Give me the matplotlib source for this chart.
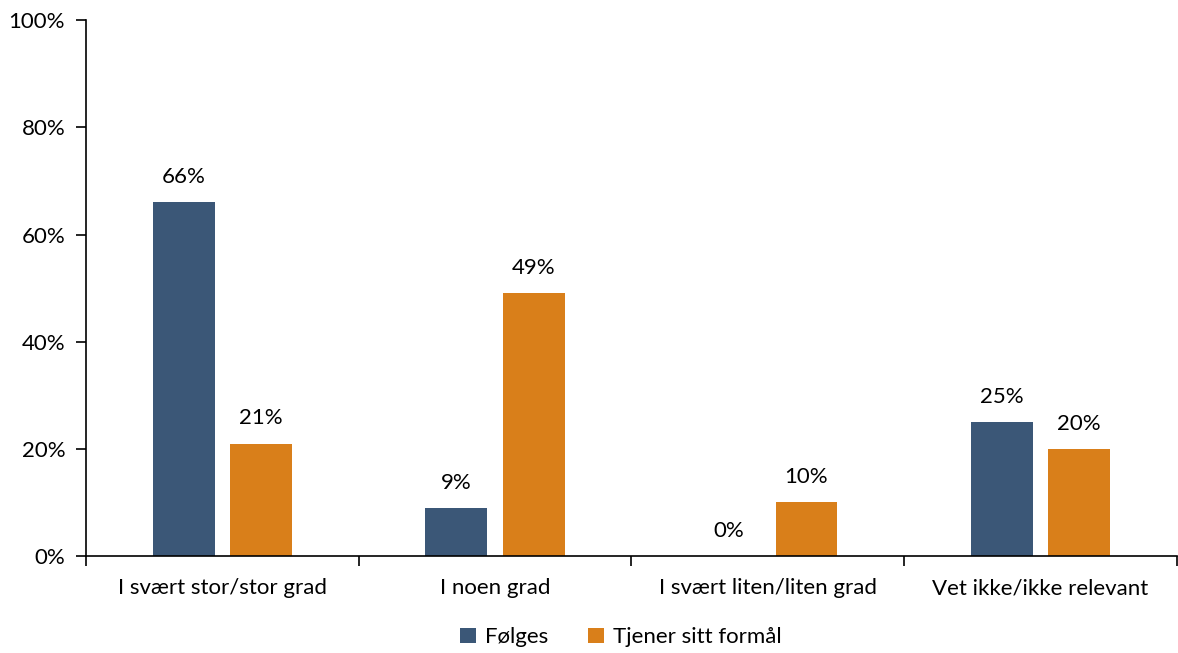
import numpy as np
import matplotlib
matplotlib.use("Agg")
import matplotlib.pyplot as plt
from matplotlib.ticker import PercentFormatter

# Data
categories = ["I svært stor/stor grad", "I noen grad", "I svært liten/liten grad", "Vet ikke/ikke relevant"]
folges = [66, 9, 0, 25]
tjener = [21, 49, 10, 20]
series_names = ["Følges", "Tjener sitt formål"]

plt.rcParams["font.family"] = ["Lato", "DejaVu Sans"]
fs = 16

fig = plt.figure(figsize=(11.78, 6.53), dpi=100)
ax = fig.add_axes([0.073, 0.1485, 0.926, 0.8205])

x = np.arange(len(categories))
w = 0.227
off = 0.142
b1 = ax.bar(x - off, folges, w, color="#3B5777", label=series_names[0])
b2 = ax.bar(x + off, tjener, w, color="#D97F1A", label=series_names[1])

for bars, vals in ((b1, folges), (b2, tjener)):
    for rect, v in zip(bars, vals):
        ax.annotate(f"{v}%", (rect.get_x() + rect.get_width() / 2, v),
                    xytext=(0, 11), textcoords="offset points",
                    ha="center", va="bottom", fontsize=fs, color="#000000")

ax.set_ylim(0, 100)
ax.set_xlim(-0.5, len(categories) - 0.5)
ax.yaxis.set_major_formatter(PercentFormatter(decimals=0))
ax.set_yticks(range(0, 101, 20))

ax.set_xticks(x)
ax.set_xticklabels(categories)
ax.set_xticks(np.arange(-0.5, len(categories)), minor=True)
ax.tick_params(axis="x", which="major", length=0, pad=16, labelsize=fs)
ax.tick_params(axis="x", which="minor", length=7, width=1.2)
ax.tick_params(axis="y", length=7, width=1.2, labelsize=fs, pad=8)

for s in ["top", "right"]:
    ax.spines[s].set_visible(False)
ax.spines["left"].set_linewidth(1.2)
ax.spines["bottom"].set_linewidth(1.2)

fig.legend(loc="lower center", bbox_to_anchor=(0.527, -0.022), ncol=2, frameon=False,
           fontsize=fs, handlelength=0.7, handleheight=0.7, columnspacing=1.8,
           handletextpad=0.4)

fig.savefig("out.png", dpi=100)
